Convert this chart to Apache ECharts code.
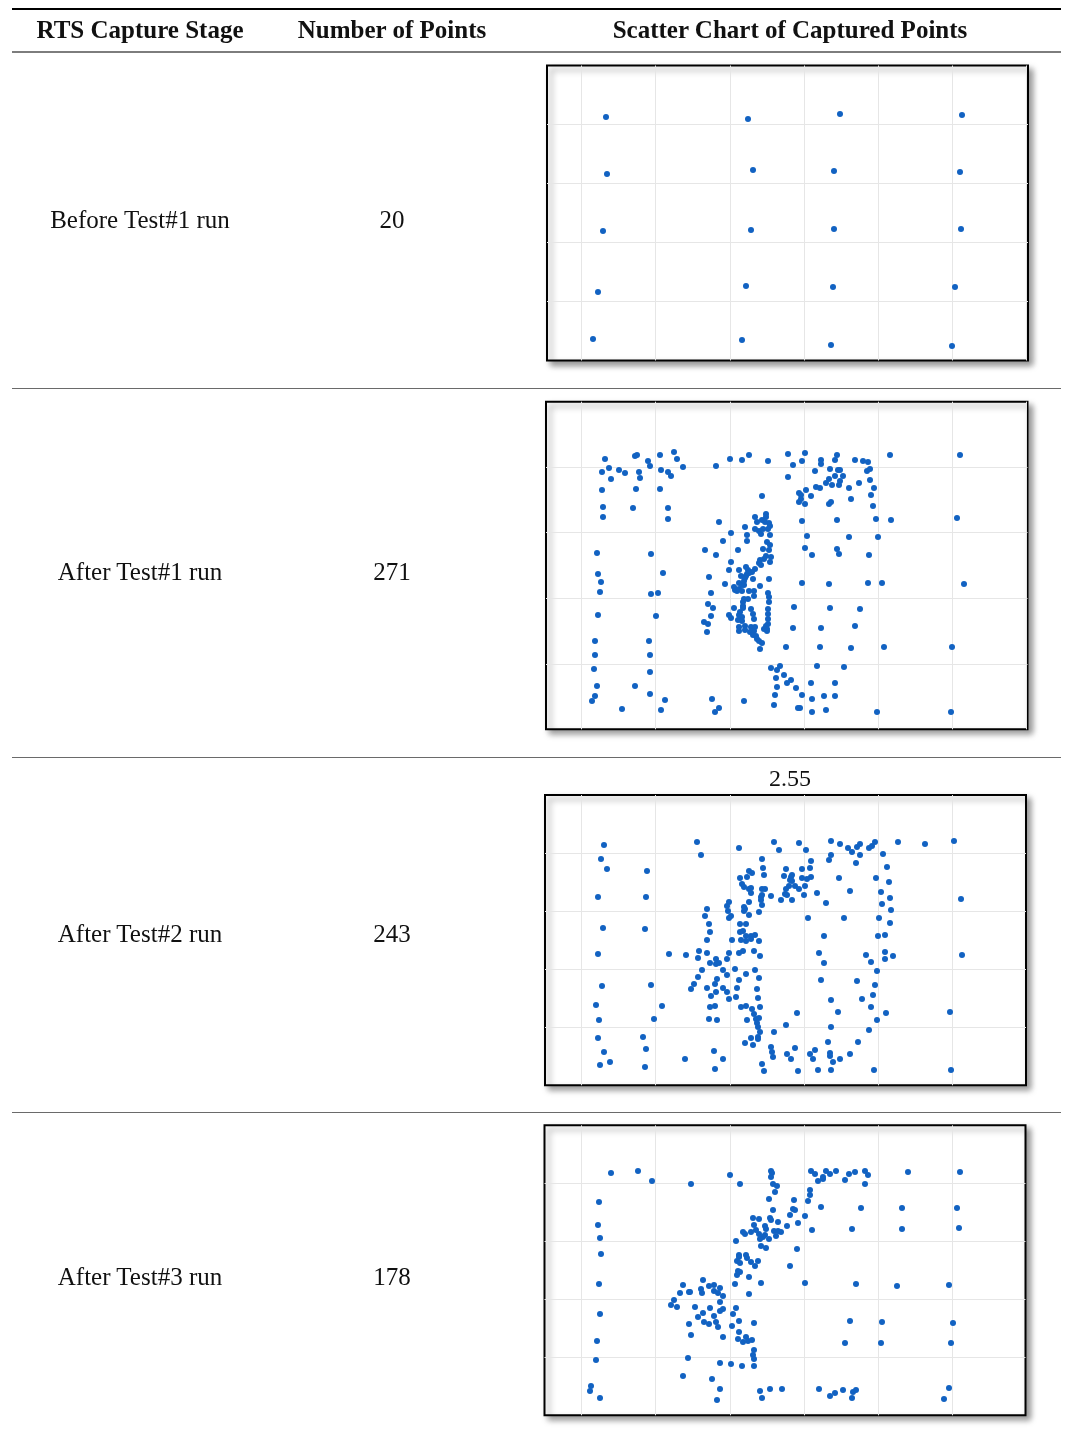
<!DOCTYPE html>
<html>
<head>
<meta charset="utf-8">
<script src="https://cdn.jsdelivr.net/npm/echarts@6/dist/echarts.min.js"></script>
<style>
  html, body { margin: 0; padding: 0; background: #fff; }
  #page { position: relative; width: 1065px; height: 1437px; overflow: hidden; }
  #chart { position: absolute; left: 0; top: 0; width: 1065px; height: 1437px; }
  .rule { position: absolute; left: 12px; width: 1049px; }
  .txt { position: absolute; transform: translate(-50%, -50%); white-space: nowrap;
         font-family: "Liberation Serif", "Times New Roman", serif; font-size: 25px; color: #111; z-index: 2; }
  .hd { font-weight: bold; }
</style>
</head>
<body>
<div id="page">
  <div id="chart"></div>
</div>
<script>
// table text
var headers = ['RTS Capture Stage', 'Number of Points', 'Scatter Chart of Captured Points'];
var stages = ['Before Test#1 run', 'After Test#1 run', 'After Test#2 run', 'After Test#3 run'];
var pointCounts = ['20', '271', '243', '178'];
var strayLabel = '2.55';

// captured touch points, screen coords (x right, y down) per panel
var before1Pts = [[66,57],[208,59],[300,54],[422,55],[67,114],[213,110],[294,111],[420,112],[63,171],[211,170],[294,169],[421,169],
  [58,232],[206,226],[293,227],[415,227],[53,279],[202,280],[291,285],[412,286]];

var after1Pts = [[65,61],[69,70],[62,74],[71,81],[79,72],[85,75],[62,92],[63,109],[63,119],
  [95,58],[97,57],[99,74],[100,80],[96,91],[93,110],
  [108,63],[110,68],[120,57],[121,72],[120,91],[128,74],[131,78],[134,54],[137,61],[143,69],[128,110],[128,121],
  [57,155],[58,176],[61,184],[60,194],[58,217],[55,243],[55,257],[54,271],[57,288],[55,298],[52,303],
  [82,311],[95,288],
  [111,156],[123,175],[111,196],[118,195],[116,218],[109,243],[110,257],[110,274],[110,296],[125,302],[121,312],
  [176,68],[190,61],[202,62],[209,57],[228,63],[248,56],[253,67],[248,79],[222,98],
  [179,124],[165,152],[176,157],[183,143],[191,135],[169,179],[171,195],[168,206],[173,210],[171,218],[164,224],[168,226],[167,234],
  [185,186],[191,164],[189,172],[198,152],[172,301],[179,310],[175,314],[204,303],
  [205,129],[207,137],[207,143],[215,119],[217,124],[215,131],[219,133],[221,136],[223,131],[222,122],[226,116],[226,119],[225,124],
  [229,125],[230,128],[228,131],[230,137],[227,144],[230,147],[229,152],[223,151],[231,159],[230,164],[226,158],[224,161],[220,162],
  [219,165],[221,167],[215,171],[212,174],[208,172],[206,169],[207,176],[209,175],[206,178],[205,180],[201,178],[199,172],[199,185],
  [194,189],[195,192],[197,193],[199,191],[202,193],[202,187],[204,187],[204,183],[213,181],[220,188],[214,193],[209,193],[229,181],
  [228,195],[229,199],[229,204],[228,211],[228,216],[228,221],[228,226],[227,231],[226,228],[224,231],[227,233],[214,198],[208,201],
  [204,201],[203,204],[203,208],[200,214],[199,217],[202,219],[202,223],[198,222],[199,229],[199,233],[205,228],[205,232],[210,234],
  [211,229],[215,229],[214,233],[213,237],[216,238],[217,241],[219,243],[222,245],[220,251],[211,211],[213,216],[214,221],[203,210],
  [194,210],[189,217],[191,220],
  [254,209],[253,230],[246,249],[231,270],[237,272],[240,268],[236,280],[244,277],[251,282],[247,285],[256,290],[237,289],[235,297],
  [234,307],[258,310],[259,95],[259,104],
  [265,55],[262,63],[261,97],[261,101],[265,106],[266,92],[262,123],[267,138],[265,150],[272,157],[262,185],[275,73],[276,89],[280,90],
  [281,62],[281,66],[290,71],[289,81],[286,85],[292,87],[295,78],[295,62],[297,57],[298,72],[300,72],[303,78],[300,83],[299,87],
  [271,98],[289,106],[291,104],[297,122],[309,90],[311,101],[319,85],[315,62],[323,63],[328,64],[327,73],[330,71],[330,82],[334,90],
  [331,97],[333,108],[336,121],[351,122],[350,57],[420,57],[417,120],[309,139],[338,139],[297,151],[299,156],[329,157],[289,186],
  [328,185],[342,185],[424,186],[290,210],[320,211],[281,230],[315,228],[280,249],[311,250],[344,249],[412,249],[277,268],[304,269],
  [271,285],[295,285],[262,297],[272,301],[284,298],[295,298],[272,314],[286,312],[337,314],[411,314],[260,310]];

var after2Pts = [[64,55],[61,69],[67,79],[107,81],[58,107],[106,107],[63,138],[105,139],[58,164],[129,164],[146,165],[62,196],[111,195],
  [56,215],[122,216],[59,230],[114,229],[58,248],[103,247],[64,262],[106,259],[60,275],[70,272],[105,277],[145,269],
  [157,52],[161,65],[199,58],[234,52],[239,60],[259,53],[266,60],
  [222,69],[223,78],[224,85],[209,81],[212,83],[207,87],[200,88],[202,94],[204,97],[209,99],[211,98],[211,103],[209,112],[204,117],
  [205,119],[204,121],[209,125],[222,99],[225,99],[222,105],[221,107],[221,110],[222,115],[219,122],[231,106],
  [246,79],[252,85],[251,87],[250,90],[252,91],[244,86],[249,96],[246,99],[245,104],[247,105],[241,110],[252,110],[255,96],[259,99],
  [262,79],[265,96],[264,105],[262,88],[267,89],[268,128],
  [187,116],[189,112],[188,121],[191,126],[189,128],[167,119],[165,126],[169,134],[170,142],[167,150],[192,150],[200,134],[206,134],
  [200,142],[203,141],[206,146],[211,146],[215,145],[211,149],[206,151],[201,150],[219,151],[214,161],[220,166],[203,161],[199,163],
  [189,163],[187,169],[183,180],[159,161],[158,168],[167,163],[170,173],[176,169],[176,174],[179,173],[162,180],[158,187],[154,194],
  [151,199],[167,198],[175,194],[177,189],[171,206],[176,202],[183,198],[187,202],[189,209],[187,185],[195,179],[199,190],[197,198],
  [196,207],[206,184],[215,180],[219,188],[217,199],[218,208],[220,217],[170,217],[175,216],[169,229],[177,230],[201,217],[206,216],
  [207,230],[212,219],[214,224],[216,229],[219,228],[217,233],[218,237],[220,242],[218,247],[218,249],[211,248],[205,253],[213,255],
  [234,242],[246,235],[257,223],[231,257],[232,262],[233,267],[247,264],[251,269],[255,258],[258,281],[222,274],[224,281],[174,261],
  [183,269],[175,279],
  [271,71],[270,78],[271,87],[277,103],[275,260],[273,269],[270,264],
  [291,51],[300,54],[308,58],[312,62],[317,57],[320,54],[329,58],[332,56],[335,52],[358,52],[385,54],[414,51],[291,65],[289,70],
  [320,65],[316,73],[343,64],[347,77],[299,88],[336,88],[349,92],[310,101],[341,102],[286,113],[342,114],[350,108],[351,120],[421,109],
  [304,128],[339,128],[350,133],[284,146],[338,146],[345,145],[279,163],[326,165],[345,162],[345,169],[353,166],[331,172],[284,173],
  [422,165],[337,181],[281,190],[317,191],[335,195],[333,205],[291,210],[322,209],[331,217],[298,222],[346,223],[337,230],[410,222],
  [291,237],[329,240],[288,252],[318,252],[290,263],[290,266],[293,272],[310,264],[300,269],[278,280],[291,280],[334,280],[411,280]];

var after3Pts = [[71,53],[98,51],[112,61],[59,82],[58,105],[60,118],[61,134],[59,164],[60,194],[57,221],[56,240],[51,266],[50,271],
  [60,278],[143,165],[140,173],[149,172],[134,180],[131,185],[137,187],[149,204],[148,238],[143,256],
  [151,64],[190,55],[200,64],[231,51],[232,53],[231,57],[233,64],[237,66],[235,72],[229,79],[233,90],[254,80],[253,89],[255,90],
  [250,95],[265,96],[258,103],[268,81],
  [230,98],[231,100],[238,102],[234,111],[238,111],[241,112],[236,116],[225,106],[226,109],[225,115],[229,119],[223,117],[220,119],
  [221,126],[226,128],[219,114],[216,110],[213,98],[219,99],[214,105],[211,112],[205,114],[203,112],[196,121],[247,106],[257,129],
  [250,146],[265,163],
  [199,135],[199,137],[206,135],[207,138],[197,141],[200,143],[211,142],[218,141],[215,146],[198,151],[200,152],[197,155],[209,157],
  [221,163],[195,164],[209,174],
  [163,160],[161,169],[162,173],[169,166],[174,165],[174,171],[178,173],[180,168],[183,176],[180,182],[183,189],[180,191],[170,188],
  [163,193],[155,187],[150,172],[158,197],[174,196],[176,202],[178,207],[164,202],[169,204],[183,217],[151,215],
  [196,188],[193,194],[199,201],[214,203],[192,206],[199,212],[198,219],[203,222],[208,221],[206,217],[212,220],[214,230],[213,235],
  [214,239],[214,246],[202,246],[191,244],[180,243],
  [172,259],[180,269],[177,280],[220,271],[222,278],[230,269],[242,269],
  [271,51],[275,54],[278,61],[270,70],[270,75],[272,110],[283,59],[283,57],[286,51],[290,54],[296,51],[305,60],[309,54],[315,52],
  [325,51],[328,55],[325,64],[281,87],[321,88],[312,109],[368,52],[420,52],[362,88],[417,88],[362,109],[419,108],[316,164],[357,166],
  [409,165],[310,201],[342,202],[413,203],[305,223],[341,223],[411,223],[279,269],[290,276],[295,273],[303,270],[313,272],[316,270],
  [312,278],[409,268],[404,279]];

var panelPts = [before1Pts, after1Pts, after2Pts, after3Pts];
// axis extents of each panel (same units as the points)
var xRanges = [[7, 488], [6, 487.5], [5, 486], [4.5, 485.5]];
var yRanges = [[5.5, 300.5], [3.7, 331.3], [5, 295.3], [5.3, 295.3]];
// vertical grid lines sit at GRID_X0 + k * GRID_DX
var GRID_X0 = 41.5, GRID_DX = 74.15;

// layout
var panelOrigin = [[540, 60], [540, 398], [540, 790], [540, 1120]];
var rowCenterY = [220, 572, 934, 1277];
var colCenterX = [140, 392, 790];

var page = document.getElementById('page');
function addDiv(cls, css, text) {
  var d = document.createElement('div');
  d.className = cls;
  d.style.cssText = css;
  if (text != null) d.textContent = text;
  page.appendChild(d);
}
addDiv('rule', 'top:8px;height:2px;background:#000;');
addDiv('rule', 'top:51px;height:1.5px;background:#7d7d7d;');
[388, 757, 1112].forEach(function (y) {
  addDiv('rule', 'top:' + y + 'px;height:1px;background:#6a6a6a;');
});
headers.forEach(function (h, i) {
  addDiv('txt hd', 'left:' + colCenterX[i] + 'px;top:30px;', h);
});
stages.forEach(function (s, i) {
  addDiv('txt', 'left:' + colCenterX[0] + 'px;top:' + rowCenterY[i] + 'px;', s);
  addDiv('txt', 'left:' + colCenterX[1] + 'px;top:' + rowCenterY[i] + 'px;', pointCounts[i]);
});
addDiv('txt', 'left:790px;top:778px;font-size:24px;', strayLabel);

var myChart = echarts.init(document.getElementById('chart'), null, {renderer: 'canvas'});
var grids = [], xAxes = [], yAxes = [], series = [];
var hidden = {show: false};
var gridLine = {show: true, showMinLine: false, showMaxLine: false, lineStyle: {color: '#e6e6e6', width: 1}};
for (var k = 0; k < 4; k++) {
  var xr = xRanges[k], yr = yRanges[k], o = panelOrigin[k];
  grids.push({
    left: o[0] + xr[0], top: o[1] + yr[0], width: xr[1] - xr[0], height: yr[1] - yr[0],
    show: true, backgroundColor: '#fff', borderColor: '#000', borderWidth: 2,
    shadowColor: 'rgba(0,0,0,0.4)', shadowBlur: 6, shadowOffsetX: 4, shadowOffsetY: 4
  });
  xAxes.push({gridIndex: k, type: 'value', min: xr[0], max: xr[1], show: false});
  xAxes.push({
    gridIndex: k, type: 'value',
    min: (xr[0] - GRID_X0) / GRID_DX, max: (xr[1] - GRID_X0) / GRID_DX,
    minInterval: 1, maxInterval: 1,
    axisLine: hidden, axisTick: hidden, axisLabel: hidden,
    splitLine: gridLine
  });
  yAxes.push({gridIndex: k, type: 'value', inverse: true, min: yr[0], max: yr[1], show: false});
  yAxes.push({
    gridIndex: k, type: 'value', min: 0, max: 5, interval: 1,
    axisLine: hidden, axisTick: hidden, axisLabel: hidden,
    splitLine: gridLine
  });
  series.push({
    type: 'scatter', xAxisIndex: 2 * k, yAxisIndex: 2 * k,
    data: panelPts[k], symbolSize: 6, silent: true,
    itemStyle: {color: '#1262c2', opacity: 1}
  });
}
myChart.setOption({
  animation: false,
  grid: grids,
  xAxis: xAxes,
  yAxis: yAxes,
  series: series
});
</script>
</body>
</html>
